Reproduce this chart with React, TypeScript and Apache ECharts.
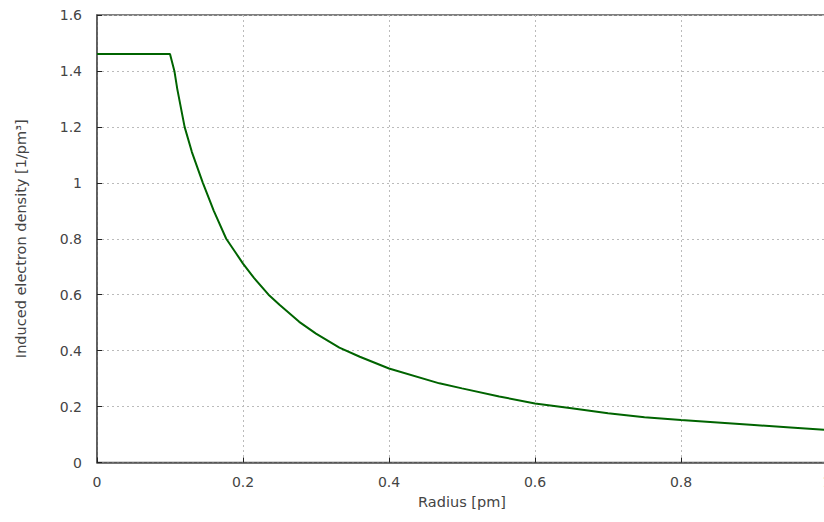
import React, { useEffect, useRef } from "react";
import * as echarts from "echarts";

const radius = [0, 0.1, 0.106, 0.11, 0.12, 0.13, 0.145, 0.16, 0.177, 0.19, 0.2, 0.215, 0.235, 0.25, 0.277, 0.3, 0.332, 0.36, 0.4, 0.469, 0.5, 0.551, 0.6, 0.65, 0.7, 0.75, 0.8, 0.85, 0.9, 0.95, 1.0];
const density = [1.461, 1.461, 1.4, 1.335, 1.2, 1.11, 1.0, 0.9, 0.8, 0.75, 0.711, 0.66, 0.6, 0.564, 0.503, 0.461, 0.411, 0.378, 0.336, 0.283, 0.265, 0.236, 0.211, 0.194, 0.176, 0.162, 0.152, 0.143, 0.134, 0.125, 0.116];

const xLabel = "Radius [pm]";
const yLabel = "Induced electron density [1/pm³]";

export default function App() {
  const ref = useRef<HTMLDivElement>(null);
  useEffect(() => {
    if (!ref.current) return;
    const chart = echarts.init(ref.current, null, { renderer: "svg" });
    const font = "'DejaVu Sans', sans-serif";
    const axisCommon = {
      axisLine: { show: true, lineStyle: { color: "#555", width: 1.5 } },
      axisTick: { show: true, inside: true, length: 5, lineStyle: { color: "#222", width: 1 } },
      splitLine: { show: true, lineStyle: { color: "#bbb", type: [2, 3] as any, width: 1 } },
      axisLabel: { color: "#444", fontSize: 14, fontFamily: font },
      nameTextStyle: { color: "#444", fontSize: 14.5, fontFamily: font },
    };
    chart.setOption({
      animation: false,
      backgroundColor: "#fff",
      grid: {
        left: 97,
        right: -3,
        top: 15,
        bottom: 59.5,
        show: true,
        borderColor: "#555",
        borderWidth: 1.5,
        containLabel: false,
        outerBoundsMode: "none",
      },
      xAxis: {
        type: "value",
        min: 0,
        max: 1,
        interval: 0.2,
        name: xLabel,
        nameLocation: "middle",
        nameGap: 32,
        ...axisCommon,
        axisLabel: { ...axisCommon.axisLabel, margin: 12 },
      },
      yAxis: {
        type: "value",
        min: 0,
        max: 1.6,
        interval: 0.2,
        name: yLabel,
        nameLocation: "middle",
        nameGap: 69,
        ...axisCommon,
        axisLabel: { ...axisCommon.axisLabel, margin: 15 },
      },
      series: [
        {
          type: "line",
          data: radius.map((r, i) => [r, density[i]]),
          showSymbol: false,
          symbol: "none",
          lineStyle: { color: "#006400", width: 2 },
          clip: true,
        },
      ],
    });
    return () => chart.dispose();
  }, []);
  return <div ref={ref} style={{ width: 824, height: 522, position: "absolute", left: 0, top: 0 }} />;
}
